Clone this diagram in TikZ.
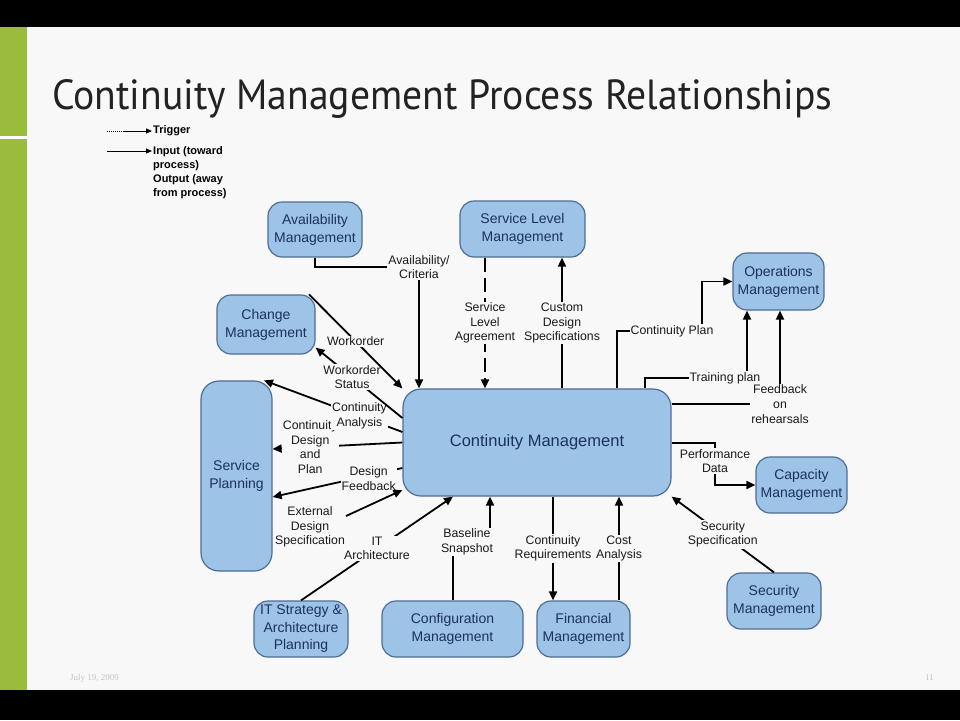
\documentclass[tikz,border=0pt]{standalone}
\usepackage{graphicx}
\usepackage{fontspec}
\setmainfont{Liberation Sans}
\newfontfamily\titlefont{PT Sans}
\newfontfamily\footfont{Liberation Serif}
\usetikzlibrary{arrows.meta}

\definecolor{boxfill}{HTML}{9DC3E6}
\definecolor{boxline}{HTML}{4E6E94}
\definecolor{boxtext}{HTML}{1C3160}
\definecolor{slidebg}{HTML}{F8F8F8}
\definecolor{barcol}{HTML}{9BBB3B}
\definecolor{titlecol}{HTML}{222222}
\definecolor{footgray}{HTML}{C4C4C4}

\tikzset{
  proc/.style={draw=boxline, line width=1.2pt, fill=boxfill, rounded corners=14pt,
    align=center, text=boxtext, font=\fontsize{14}{18}\selectfont, inner sep=2pt},
  lbl/.style={fill=slidebg, inner sep=1pt, align=center, text=black!90,
    font=\fontsize{12.3}{14.6}\selectfont},
  flow/.style={line width=1.8pt, -{Triangle[length=9pt,width=8pt]}},
  trig/.style={flow, dash pattern=on 14pt off 6pt},
  legtxt/.style={inner sep=1pt, font=\fontsize{11}{14}\selectfont\bfseries},
  legflow/.style={line width=1pt, -{Triangle[length=6pt,width=5pt]}},
}

\begin{document}
\begin{tikzpicture}[x=1pt,y=-1pt]
\useasboundingbox (0,0) rectangle (960,720);
% slide
\fill[black] (0,0) rectangle (960,720);
\fill[slidebg] (0,27) rectangle (960,690);
\fill[barcol] (0,27) rectangle (27,690);
\fill[white] (0,136) rectangle (27,139);

\node[anchor=base west, inner sep=0, text=titlecol] (title) at (52,109)
  {\resizebox{780pt}{30pt}{\titlefont Continuity Management Process Relationships}};

% legend
\coordinate (lgA) at (107,131);
\coordinate (lgA2) at (123,131);
\coordinate (lgB) at (107,151);
\node[legtxt, anchor=west] (lgtrig) at (152,131) {Trigger};
\node[legtxt, anchor=west, align=left] (lgio) at (152,173)
  {Input (toward\\process)\\Output (away\\from process)};
\draw[line width=1pt, densely dotted] (lgA) -- (lgA2);
\draw[legflow] (lgA2) -- (lgtrig.west);
\draw[legflow] (lgB) -- (lgio.west |- lgB);

% processes
\node[proc, minimum width=94pt, minimum height=55pt] (avail) at (315,229.5) {Availability\\Management};
\node[proc, minimum width=125pt, minimum height=56pt] (slm) at (522.5,229) {Service Level\\Management};
\node[proc, minimum width=91pt, minimum height=57pt] (ops) at (778.5,281.5) {Operations\\Management};
\node[proc, minimum width=98pt, minimum height=59pt] (chg) at (266,324.5) {Change\\Management};
\node[proc, minimum width=71pt, minimum height=190pt, rounded corners=18pt] (plan) at (236.5,476) {Service\\Planning};
\node[proc, minimum width=268pt, minimum height=107pt, rounded corners=18pt,
  font=\fontsize{16.5}{20}\selectfont] (cm) at (537,442.5) {Continuity Management};
\node[proc, minimum width=91pt, minimum height=56pt] (cap) at (801.5,485) {Capacity\\Management};
\node[proc, minimum width=94pt, minimum height=56pt] (sec) at (774,601) {Security\\Management};
\node[proc, minimum width=94pt, minimum height=56pt,
  font=\fontsize{14}{17.5}\selectfont] (itsa) at (301,629) {IT Strategy \&\\Architecture\\Planning};
\node[proc, minimum width=141pt, minimum height=56pt] (conf) at (452.5,629) {Configuration\\Management};
\node[proc, minimum width=93pt, minimum height=56pt] (fin) at (583.5,629) {Financial\\Management};

% top
\draw[flow] (avail.south) |- (419,267) node[lbl] {Availability/\\Criteria} -- (cm.north -| 419,0);
\draw[trig] (slm.south -| 485,0) -- node[lbl] {Service\\Level\\Agreement} (cm.north -| 485,0);
\draw[flow] (cm.north -| 562,0) -- node[lbl] {Custom\\Design\\Specifications} (slm.south -| 562,0);

% right
\draw[flow] (cm.north -| 617,0) |- (672,331) node[lbl] {Continuity Plan} -| (ops.west -| 702,0) -- (ops.west);
\draw[flow] (cm.north -| 645,0) |- (725,378) node[lbl] {Training plan} -| (ops.south -| 747,0);
\draw[flow] (cm.east |- 0,404) -| node[lbl, pos=0.5] {Feedback\\on\\rehearsals} (ops.south -| 780,0);
\draw[flow] (cm.east |- 0,443) -| (715,461) node[lbl] {Performance\\Data} |- (cap.west);
\draw[flow] (sec.north) -- node[lbl] {Security\\Specification} (cm.south east);

% bottom
\draw[flow] (conf.north -| 453,0) |- (467,542) node[lbl] {Baseline\\Snapshot} -| (cm.south -| 490,0);
\draw[flow] (cm.south -| 553,0) -- node[lbl] {Continuity\\Requirements} (fin.north -| 553,0);
\draw[flow] (fin.north -| 619,0) -- node[lbl] {Cost\\Analysis} (cm.south -| 619,0);
\draw[flow] (itsa.north) -- node[lbl] {IT\\Architecture} (cm.south -| 453,0);

% left
\draw[flow] (cm.west) -- node[lbl, pos=0.71] {Continuity\\Design\\and\\Plan} (plan.east |- 0,449);
\draw[flow] (cm.west |- 0,432) -- node[lbl, pos=0.31] {Continuity\\Analysis} (plan.74);
\draw[flow] (cm.west |- 0,468) -- node[lbl, pos=0.26, yshift=-3pt] {Design\\Feedback} (plan.east |- 0,497);
\node[lbl] (extd) at (310,527) {External\\Design\\Specification};
\draw[flow] (extd.east |- 0,516) -- (cm.west |- 0,490);
\draw[flow] (cm.west |- 0,418) -- node[lbl, pos=0.58] {Workorder\\Status} (chg.-25);
\draw[flow] (chg.35) -- node[lbl] {Workorder} (cm.north west);

% footer
\node[anchor=west, inner sep=0, text=footgray, font=\footfont\fontsize{9}{10}\selectfont] (date) at (70,678) {July 19, 2009};
\node[anchor=east, inner sep=0, text=footgray, font=\footfont\fontsize{9}{10}\selectfont] (pgno) at (934,678) {11};
\end{tikzpicture}
\end{document}
